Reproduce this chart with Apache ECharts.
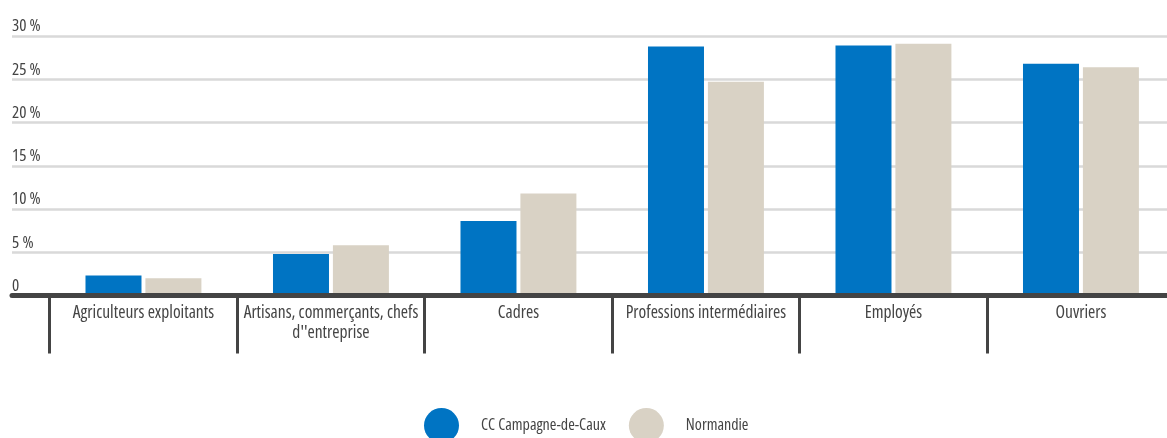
<!DOCTYPE html>
<html>
<head>
<meta charset="utf-8">
<script src="https://cdn.jsdelivr.net/npm/echarts@6/dist/echarts.min.js"></script>
<style>
html,body{margin:0;padding:0;background:#fff;}
#chart{width:1167px;height:438px;}
</style>
</head>
<body>
<div id="chart"></div>
<script>
const categories = ['Agriculteurs exploitants', "Artisans, commerçants, chefs d''entreprise", 'Cadres', 'Professions intermédiaires', 'Employés', 'Ouvriers'];
const categoryLabels = ['Agriculteurs exploitants', "Artisans, commerçants, chefs\nd''entreprise", 'Cadres', 'Professions intermédiaires', 'Employés', 'Ouvriers'];
const seriesNames = ['CC Campagne-de-Caux', 'Normandie'];
const ccValues = [2.3, 4.8, 8.6, 28.8, 28.9, 26.8];
const normandieValues = [2.0, 5.8, 11.8, 24.7, 29.1, 26.4];
const yTicks = [0, 5, 10, 15, 20, 25, 30];

const FONT = '"Open Sans", "Roboto", sans-serif';
const STRETCH = 'condensed';
const TXT = '#444444';

function draw() {
  const chart = echarts.init(document.getElementById('chart'), null, {renderer: 'canvas'});
  chart.setOption({
    animation: false,
    textStyle: {fontFamily: FONT, fontStyle: STRETCH},
    grid: [
      {left: 12, right: 0, top: 36, bottom: 142.5, outerBoundsMode: 'none'},
      {left: 49.7, width: 1125, top: 36, bottom: 142.5, outerBoundsMode: 'none'}
    ],
    legend: {
      data: seriesNames,
      left: 424, top: 408, padding: 0,
      icon: 'circle',
      itemWidth: 35, itemHeight: 35,
      itemGap: 23,
      textStyle: {fontFamily: FONT, fontStyle: STRETCH, fontSize: 16, color: TXT, padding: [0, 0, 0, 17]}
    },
    xAxis: [
      {
        gridIndex: 0, type: 'category', data: [''], z: 10,
        axisLine: {show: true, lineStyle: {color: '#444444', width: 5}},
        axisTick: {show: false}, axisLabel: {show: false}, splitLine: {show: false}
      },
      {
        gridIndex: 1, type: 'category', data: categories,
        axisLine: {show: false},
        axisTick: {show: true, length: 58, lineStyle: {color: '#444444', width: 3}},
        axisLabel: {
          interval: 0, margin: 8, color: TXT, fontFamily: FONT, fontStyle: STRETCH, fontSize: 17.5, lineHeight: 20,
          formatter: (v, i) => categoryLabels[i]
        },
        splitLine: {show: false}
      }
    ],
    yAxis: [
      {
        gridIndex: 0, type: 'value', min: yTicks[0], max: yTicks[yTicks.length - 1], interval: 5,
        axisLine: {show: false}, axisTick: {show: false},
        splitLine: {show: true, lineStyle: {color: '#d9d9d9', width: 2.5}},
        axisLabel: {
          inside: true, margin: 0, verticalAlign: 'bottom', padding: [0, 0, 1, 0],
          color: TXT, fontFamily: FONT, fontStyle: STRETCH, fontSize: 17,
          formatter: v => v === 0 ? '0' : v + ' %'
        }
      },
      {
        gridIndex: 1, type: 'value', min: yTicks[0], max: yTicks[yTicks.length - 1], interval: 5,
        show: false, splitLine: {show: false}
      }
    ],
    series: [
      {
        name: seriesNames[0], type: 'bar', xAxisIndex: 1, yAxisIndex: 1,
        data: ccValues, barWidth: 56, barGap: '7%',
        itemStyle: {color: '#0074c3'}
      },
      {
        name: seriesNames[1], type: 'bar', xAxisIndex: 1, yAxisIndex: 1,
        data: normandieValues, barWidth: 56, barGap: '7%',
        itemStyle: {color: '#d9d2c5'}
      }
    ]
  });
}
if (document.fonts && document.fonts.load) {
  Promise.all([
    document.fonts.load("condensed 17px 'Open Sans'"),
    document.fonts.load("condensed 16px 'Open Sans'")
  ]).then(draw, draw);
} else { draw(); }
</script>
</body>
</html>
